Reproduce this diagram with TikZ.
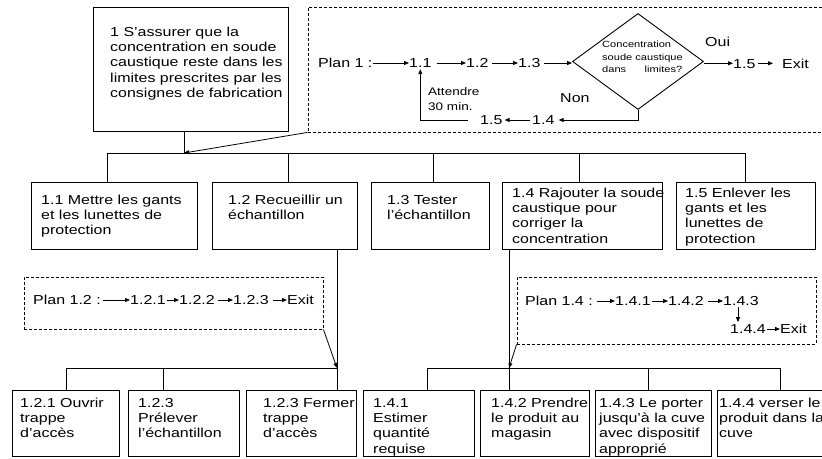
\documentclass[tikz,border=0pt]{standalone}
\usepackage{fontspec}
\setmainfont[FakeStretch=1.23]{Liberation Sans}
\usetikzlibrary{arrows.meta,shapes.geometric}
\newcommand\fntA{\fontsize{13}{15.3}\selectfont}
\newcommand\fntB{\fontsize{11}{15}\selectfont}
\newcommand\fntC{\fontsize{9}{12.5}\selectfont}
\newcommand\abox[6]{\node[#2, minimum width={(#5)-(#3)}, minimum height={(#6)-(#4)}] (#1) at ({((#3)+(#5))/2},{((#4)+(#6))/2}) {};}
\tikzset{
  box/.style={draw, line width=0.9pt, inner sep=0pt},
  dbox/.style={draw, line width=0.8pt, dash pattern=on 3pt off 2pt, inner sep=0pt},
  txt/.style={anchor=north west, inner sep=0pt, align=left, font=\fntA},
  lab/.style={anchor=base west, inner sep=0pt, font=\fntA, text height=9.4pt, text depth=0pt},
  arr/.style={-{Triangle[length=5pt,width=4pt]}, line width=0.8pt},
  ln/.style={line width=0.9pt}
}
\begin{document}
\begin{tikzpicture}[x=1pt,y=-1pt]
\useasboundingbox (0,0) rectangle (822,458);

% ---------- top level ----------
\abox{b1}{box}{93}{7}{288}{131}
\node[txt] (t1) at (110,25.3) {\strut 1 S'assurer que la\\concentration en soude\\caustique reste dans les\\limites prescrites par les\\consignes de fabrication};

\abox{pl1}{dbox}{308}{7}{830}{132}
\node[lab] (p1) at (318,67.7) {Plan 1 :};
\node[lab] (n11) at (409,67.7) {1.1};
\node[lab] (n12) at (466,67.7) {1.2};
\node[lab] (n13) at (518,67.7) {1.3};
\node[draw, diamond, minimum width=131pt, minimum height=96pt, inner sep=0pt, line width=0.9pt] (dec) at (638,61.5) {};
\node[anchor=north west, inner sep=0pt, align=left, font=\fntC] (dt) at (602,39) {\strut Concentration\\soude caustique\\dans\hspace{18.5pt}limites?};
\node[lab] (oui) at (705,46.7) {Oui};
\node[lab] (n15b) at (733,68) {1.5};
\node[lab] (ex1) at (782,68) {Exit};
\node[lab] (n14) at (532,124.7) {1.4};
\node[lab] (n15a) at (480,124.7) {1.5};
\node[lab] (non) at (560,102.7) {Non};
\node[anchor=north west, inner sep=0pt, align=left, font=\fntB] (att) at (428,85) {\strut Attendre\\30 min.};

\draw[arr] (p1.east) -- (n11.west);
\draw[arr] ([xshift=5pt]n11.east) -- (n12.west);
\draw[arr] ([xshift=3pt]n12.east) -- (n13.west);
\draw[arr] ([xshift=3pt]n13.east) -- (n13.east -| dec.west);
\draw[arr] (n15b.west -| dec.east) -- (n15b.west);
\draw[arr] ([xshift=2pt]n15b.east) -- ([xshift=-9pt]ex1.west);
\draw[arr] (dec.south) |- ([xshift=4pt]n14.east);
\draw[arr] ([xshift=-2pt]n14.west) -- ([xshift=2pt]n15a.east);
\draw[arr] ([xshift=-12pt]n15a.west) -| ([yshift=-1.3pt]n11.south);

% ---------- level 1 ----------
\abox{b11}{box}{31}{182}{197}{249}
\abox{b12}{box}{212}{182}{357}{249}
\abox{b13}{box}{371}{182}{489}{249}
\abox{b14}{box}{502}{182}{662}{249}
\abox{b15}{box}{676}{182}{815}{249}
\node[txt] (t11) at (41,193.3) {\strut 1.1 Mettre les gants\\et les lunettes de\\protection};
\node[txt] (t12) at (228,193.3) {\strut 1.2 Recueillir un\\échantillon};
\node[txt] (t13) at (387,193.3) {\strut 1.3 Tester\\l'échantillon};
\node[txt] (t14) at (512,186.3) {\strut 1.4 Rajouter la soude\\caustique pour\\corriger la\\concentration};
\node[txt] (t15) at (685,186.3) {\strut 1.5 Enlever les\\gants et les\\lunettes de\\protection};

\coordinate (d1) at (184,153);
\coordinate (d11) at (107,153);
\coordinate (d12) at (288,153);
\coordinate (d13) at (433,153);
\coordinate (d14) at (579,153);
\coordinate (d15) at (745,153);
\draw[ln] (d1 |- b1.south) -- (d1);
\draw[ln] (d11) -- (d15);
\draw[ln] (d11) -- (d11 |- b11.north);
\draw[ln] (d12) -- (d12 |- b12.north);
\draw[ln] (d13) -- (d13 |- b13.north);
\draw[ln] (d14) -- (d14 |- b14.north);
\draw[ln] (d15) -- (d15 |- b15.north);
\draw[arr] (pl1.south west) -- (d1);

% ---------- plan 1.2 ----------
\abox{pl12}{dbox}{24}{277}{323}{329}
\node[lab] (p12) at (33,304.7) {Plan 1.2 :};
\node[lab] (a1) at (130,304.7) {1.2.1};
\node[lab] (a2) at (179,304.7) {1.2.2};
\node[lab] (a3) at (233,304.7) {1.2.3};
\node[lab] (ex2) at (287,304.7) {Exit};
\draw[arr] ([xshift=2pt]p12.east) -- (a1.west);
\draw[arr] ([xshift=1.5pt]a1.east) -- (a2.west);
\draw[arr] ([xshift=3pt]a2.east) -- (a3.west);
\draw[arr] ([xshift=4pt]a3.east) -- (ex2.west);

% ---------- plan 1.4 ----------
\abox{pl14}{dbox}{517}{277}{816}{344}
\node[lab] (p14) at (525,305.7) {Plan 1.4 :};
\node[lab] (c1) at (615,305.7) {1.4.1};
\node[lab] (c2) at (668,305.7) {1.4.2};
\node[lab] (c3) at (723,305.7) {1.4.3};
\node[lab] (c4) at (730,333.7) {1.4.4};
\node[lab] (ex3) at (780,333.7) {Exit};
\draw[arr] ([xshift=4pt]p14.east) -- (c1.west);
\draw[arr] ([xshift=1.5pt]c1.east) -- (c2.west);
\draw[arr] ([xshift=4pt]c2.east) -- (c3.west);
\draw[arr] ([xshift=15pt,yshift=-1.5pt]c3.south west) -- ([xshift=8pt,yshift=2pt]c4.north west);
\draw[arr] ([xshift=1pt]c4.east) -- (ex3.west);

% ---------- level 2 ----------
\abox{b121}{box}{12}{390}{119}{456}
\abox{b122}{box}{128}{390}{239}{456}
\abox{b123}{box}{246}{390}{356}{456}
\abox{b141}{box}{363}{390}{474}{456}
\abox{b142}{box}{480}{390}{589}{456}
\abox{b143}{box}{595}{390}{711}{456}
\abox{b144}{box}{717}{390}{830}{456}
\node[txt] (t121) at (20,396.3) {\strut 1.2.1 Ouvrir\\trappe\\d'accès};
\node[txt] (t122) at (138,396.3) {\strut 1.2.3\\Prélever\\l'échantillon};
\node[txt] (t123) at (263,396.3) {\strut 1.2.3 Fermer\\trappe\\d'accès};
\node[txt] (t141) at (373,396.3) {\strut 1.4.1\\Estimer\\quantité\\requise};
\node[txt] (t142) at (491,396.3) {\strut 1.4.2 Prendre\\le produit au\\magasin};
\node[txt] (t143) at (599,396.3) {\strut 1.4.3 Le porter\\jusqu'à la cuve\\avec dispositif\\approprié};
\node[txt] (t144) at (719,396.3) {\strut 1.4.4 verser le\\produit dans la\\cuve};

\coordinate (e1) at (66,368);
\coordinate (e2) at (163,368);
\coordinate (e3) at (337,368);
\draw[ln] (e3 |- b12.south) -- (e3 |- b123.north);
\draw[ln] (e1) -- (e3);
\draw[ln] (e1) -- (e1 |- b121.north);
\draw[ln] (e2) -- (e2 |- b122.north);
\draw[arr] (pl12.south east) -- (e3);

\coordinate (f1) at (427,368);
\coordinate (f2) at (509,368);
\coordinate (f3) at (648,368);
\coordinate (f4) at (780,368);
\draw[ln] (f2 |- b14.south) -- (f2 |- b142.north);
\draw[ln] (f1) -- (f4);
\draw[ln] (f1) -- (f1 |- b141.north);
\draw[ln] (f3) -- (f3 |- b143.north);
\draw[ln] (f4) -- (f4 |- b144.north);
\draw[arr] (pl14.south west) -- (f2);
\end{tikzpicture}
\end{document}
